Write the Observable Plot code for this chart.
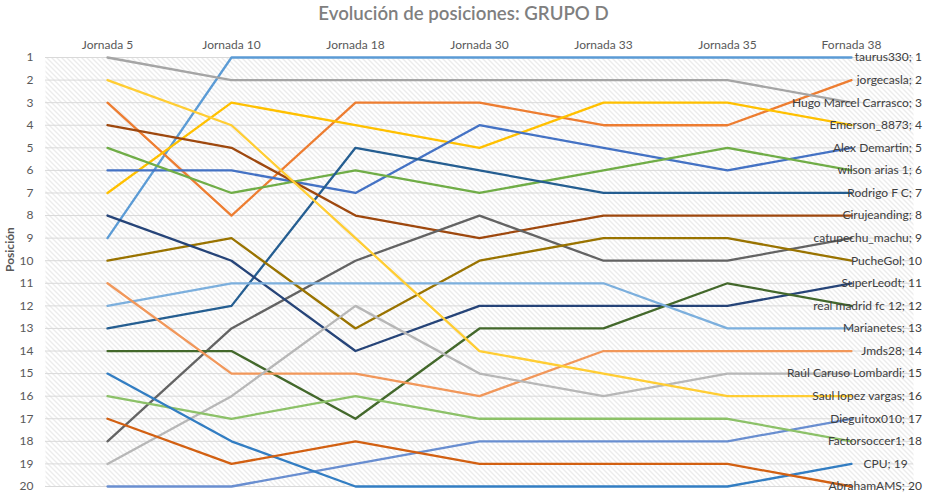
<!DOCTYPE html>
<html><head><meta charset="utf-8">
<script src="https://cdn.jsdelivr.net/npm/d3@7"></script>
<script src="https://cdn.jsdelivr.net/npm/@observablehq/plot@0.6"></script>
<style>
body{margin:0;background:#fff;font-family:Lato,sans-serif}
#title{height:26px;line-height:26px;text-align:center;font-size:18.67px;color:#7f7f7f;font-weight:600;white-space:nowrap}
#chart svg{display:block;overflow:visible}
</style></head><body>
<div id="title">Evolución de posiciones: GRUPO D</div>
<div id="chart"></div>
<script>
const jornadas = ["Jornada 5","Jornada 10","Jornada 18","Jornada 30","Jornada 33","Jornada 35","Fornada 38"];
const jugadores = ["taurus330","jorgecasla","Hugo Marcel Carrasco","Emerson_8873","Alex Demartin","wilson arias 1","Rodrigo F C","Cirujeanding","catupechu_machu","PucheGol","SuperLeodt","real madrid fc 12","Marianetes","Jmds28","Raúl Caruso Lombardi","Saul lopez vargas","Dieguitox010","Factorsoccer1","CPU","AbrahamAMS"];
const posiciones = [
  [9,1,1,1,1,1,1],
  [3,8,3,3,4,4,2],
  [1,2,2,2,2,2,3],
  [7,3,4,5,3,3,4],
  [6,6,7,4,5,6,5],
  [5,7,6,7,6,5,6],
  [13,12,5,6,7,7,7],
  [4,5,8,9,8,8,8],
  [18,13,10,8,10,10,9],
  [10,9,13,10,9,9,10],
  [8,10,14,12,12,12,11],
  [14,14,17,13,13,11,12],
  [12,11,11,11,11,13,13],
  [11,15,15,16,14,14,14],
  [19,16,12,15,16,15,15],
  [2,4,9,14,15,16,16],
  [20,20,19,18,18,18,17],
  [16,17,16,17,17,17,18],
  [15,18,20,20,20,20,19],
  [17,19,18,19,19,19,20]
];
const colores = ["#5B9BD5","#ED7D31","#A5A5A5","#FFC000","#4472C4","#70AD47","#255E91","#9E480E","#636363","#997300","#264478","#43682B","#7CAFDD","#F1975A","#B7B7B7","#FFCD33","#698ED0","#8CC168","#327DC2","#D26012"];
const ticksY = d3.range(1, 21);

const datos = [];
jugadores.forEach((j, i) => posiciones[i].forEach((p, k) => datos.push({jugador: j, jornada: jornadas[k], pos: p})));
const ultima = datos.filter(d => d.jornada === jornadas[jornadas.length - 1]);

const chart = Plot.plot({
  width: 927, height: 467,
  marginTop: 31, marginBottom: 7, marginLeft: 45, marginRight: 14,
  style: {fontFamily: "Lato, sans-serif", fontSize: "12px", color: "#595959", background: "transparent", overflow: "visible"},
  x: {type: "point", domain: jornadas, padding: 0.5, axis: null},
  y: {domain: [1, 20], reverse: true, axis: null},
  color: {domain: jugadores, range: colores},
  marks: [
    Plot.frame({fill: "url(#hatch)", stroke: null}),
    Plot.ruleY(ticksY, {stroke: "#d9d9d9", strokeWidth: 1}),
    Plot.axisY(ticksY, {tickSize: 0, tickPadding: 12, fontSize: 12, fill: "#595959", label: null}),
    Plot.axisX({anchor: "top", tickSize: 0, tickPadding: 9, fontSize: 12, fill: "#595959", label: null}),
    Plot.line(datos, {x: "jornada", y: "pos", z: "jugador", stroke: "jugador", strokeWidth: 2.3}),
    Plot.text(ultima, {x: "jornada", y: "pos", text: d => `${d.jugador}; ${d.pos}`, textAnchor: "start", dx: 12, fill: "#404040", fontSize: 12}),
    Plot.text(["Posición"], {text: d => d, frameAnchor: "left", rotate: -90, dx: -35, fontWeight: "bold", fontSize: 12, fill: "#595959"})
  ]
});
document.getElementById("chart").appendChild(chart);

// hatch pattern for the plot area
const svg = d3.select(chart);
const defs = svg.insert("defs", ":first-child");
const pat = defs.append("pattern").attr("id", "hatch").attr("patternUnits", "userSpaceOnUse").attr("width", 5).attr("height", 5);
pat.append("rect").attr("width", 5).attr("height", 5).attr("fill", "#ffffff");
pat.append("path").attr("d", "M-1,-1L6,6M-1,4L1,6M4,-1L6,1").attr("stroke", "#cfcfcf").attr("stroke-width", 0.8);

// keep data labels inside the chart area (as the spreadsheet does)
const limite = 922;
svg.selectAll("text").each(function () {
  const r = this.getBoundingClientRect();
  if (r.right > limite) this.setAttribute("x", String(-(r.right - limite)));
});
</script>
</body></html>
